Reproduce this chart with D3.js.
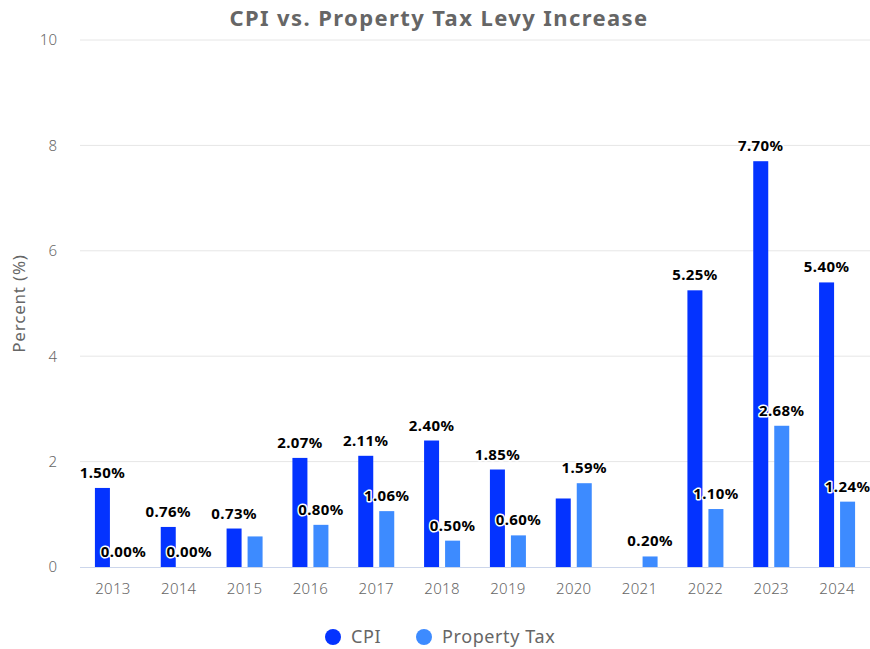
<!DOCTYPE html>
<html><head><meta charset="utf-8">
<script src="https://cdn.jsdelivr.net/npm/d3@7"></script>
<style>body{margin:0;background:#fff}svg{display:block}text{font-family:"Noto Sans",sans-serif}</style>
</head><body>
<svg id="c" width="870" height="649"></svg>
<script>
const years = ["2013","2014","2015","2016","2017","2018","2019","2020","2021","2022","2023","2024"];
const cpi = [1.50,0.76,0.73,2.07,2.11,2.40,1.85,1.30,null,5.25,7.70,5.40];
const cpiLabelShown = [true,true,true,true,true,true,true,false,false,true,true,true];
const propertyTax = [0.00,0.00,0.58,0.80,1.06,0.50,0.60,1.59,0.20,1.10,2.68,1.24];
const ptLabelShown = [true,true,false,true,true,true,true,true,true,true,true,true];
const yTicks = [0,2,4,6,8,10];
const seriesNames = ["CPI","Property Tax"];
const colors = ["#0433ff","#3d8bff"];

const svg = d3.select("#c");
const pL=80,pR=870,pT=40,pB=567;
const x = d3.scaleBand().domain(years).range([pL,pR]);
const y = d3.scaleLinear().domain([0,10]).range([pB,pT]);
const bw=15, gap=3;

svg.append("text").attr("x",439).attr("y",26).attr("text-anchor","middle")
  .attr("font-size",22).attr("font-weight","bold").attr("letter-spacing",1.4).attr("fill","#666").text("CPI vs. Property Tax Levy Increase");

svg.append("g").selectAll("line").data(yTicks.filter(d=>d>0)).join("line")
  .attr("x1",pL).attr("x2",pR).attr("y1",d=>y(d)).attr("y2",d=>y(d))
  .attr("stroke","#e6e6e6").attr("stroke-width",1);
svg.append("line").attr("x1",pL).attr("x2",pR).attr("y1",y(0)+0.5).attr("y2",y(0)+0.5).attr("stroke","#ccd6eb");

const yAxis = d3.axisLeft(y).tickValues(yTicks).tickSize(0).tickPadding(0);
const ga = svg.append("g").attr("transform",`translate(57,0)`).call(yAxis);
ga.select(".domain").remove();
ga.selectAll("text").attr("font-size",15).attr("fill","#666").attr("font-family","Noto Sans").attr("font-weight",300).attr("dy","0.32em");

const xAxis = d3.axisBottom(x).tickSize(0).tickPadding(0);
const gx = svg.append("g").attr("transform",`translate(0,583)`).call(xAxis);
gx.select(".domain").remove();
gx.selectAll("text").attr("font-size",15).attr("fill","#666").attr("font-family","Noto Sans").attr("font-weight",300).attr("letter-spacing",0.3);

svg.append("text").attr("transform",`translate(25,${(pT+pB)/2}) rotate(-90)`).attr("text-anchor","middle")
  .attr("font-size",17).attr("letter-spacing",0.8).attr("fill","#666").text("Percent (%)");

const cx = i=>x(years[i])+x.bandwidth()/2;
const cpiData = cpi.map((v,i)=>({v,i})).filter(d=>d.v!=null);
svg.append("g").selectAll("rect").data(cpiData).join("rect")
  .attr("x",d=>cx(d.i)-gap-bw).attr("width",bw)
  .attr("y",d=>y(d.v)).attr("height",d=>y(0)-y(d.v)).attr("fill",colors[0]);
const ptData = propertyTax.map((v,i)=>({v,i}));
svg.append("g").selectAll("rect").data(ptData).join("rect")
  .attr("x",d=>cx(d.i)+gap).attr("width",bw)
  .attr("y",d=>y(d.v)).attr("height",d=>y(0)-y(d.v)).attr("fill",colors[1]);

function labels(data, shown, off){
  svg.append("g").selectAll("text").data(data.filter(d=>shown[d.i])).join("text")
    .attr("x",d=>cx(d.i)+off).attr("y",d=>y(d.v)-10).attr("text-anchor","middle")
    .attr("font-size",15).attr("font-weight","bold").attr("letter-spacing",0.4).attr("fill","#000")
    .attr("stroke","#fff").attr("stroke-width",3).attr("stroke-linejoin","round").attr("paint-order","stroke")
    .text(d=>d.v.toFixed(2)+"%");
}
labels(cpiData,cpiLabelShown,-gap-bw/2);
labels(ptData,ptLabelShown,gap+bw/2);

const lg = svg.append("g");
const legX=[333,424];
seriesNames.forEach((n,i)=>{
  lg.append("circle").attr("cx",legX[i]).attr("cy",637).attr("r",8).attr("fill",colors[i]);
  lg.append("text").attr("x",legX[i]+18).attr("y",643).attr("font-size",18).attr("letter-spacing",0.6).attr("fill","#666").text(n);
});
</script>
</body></html>
